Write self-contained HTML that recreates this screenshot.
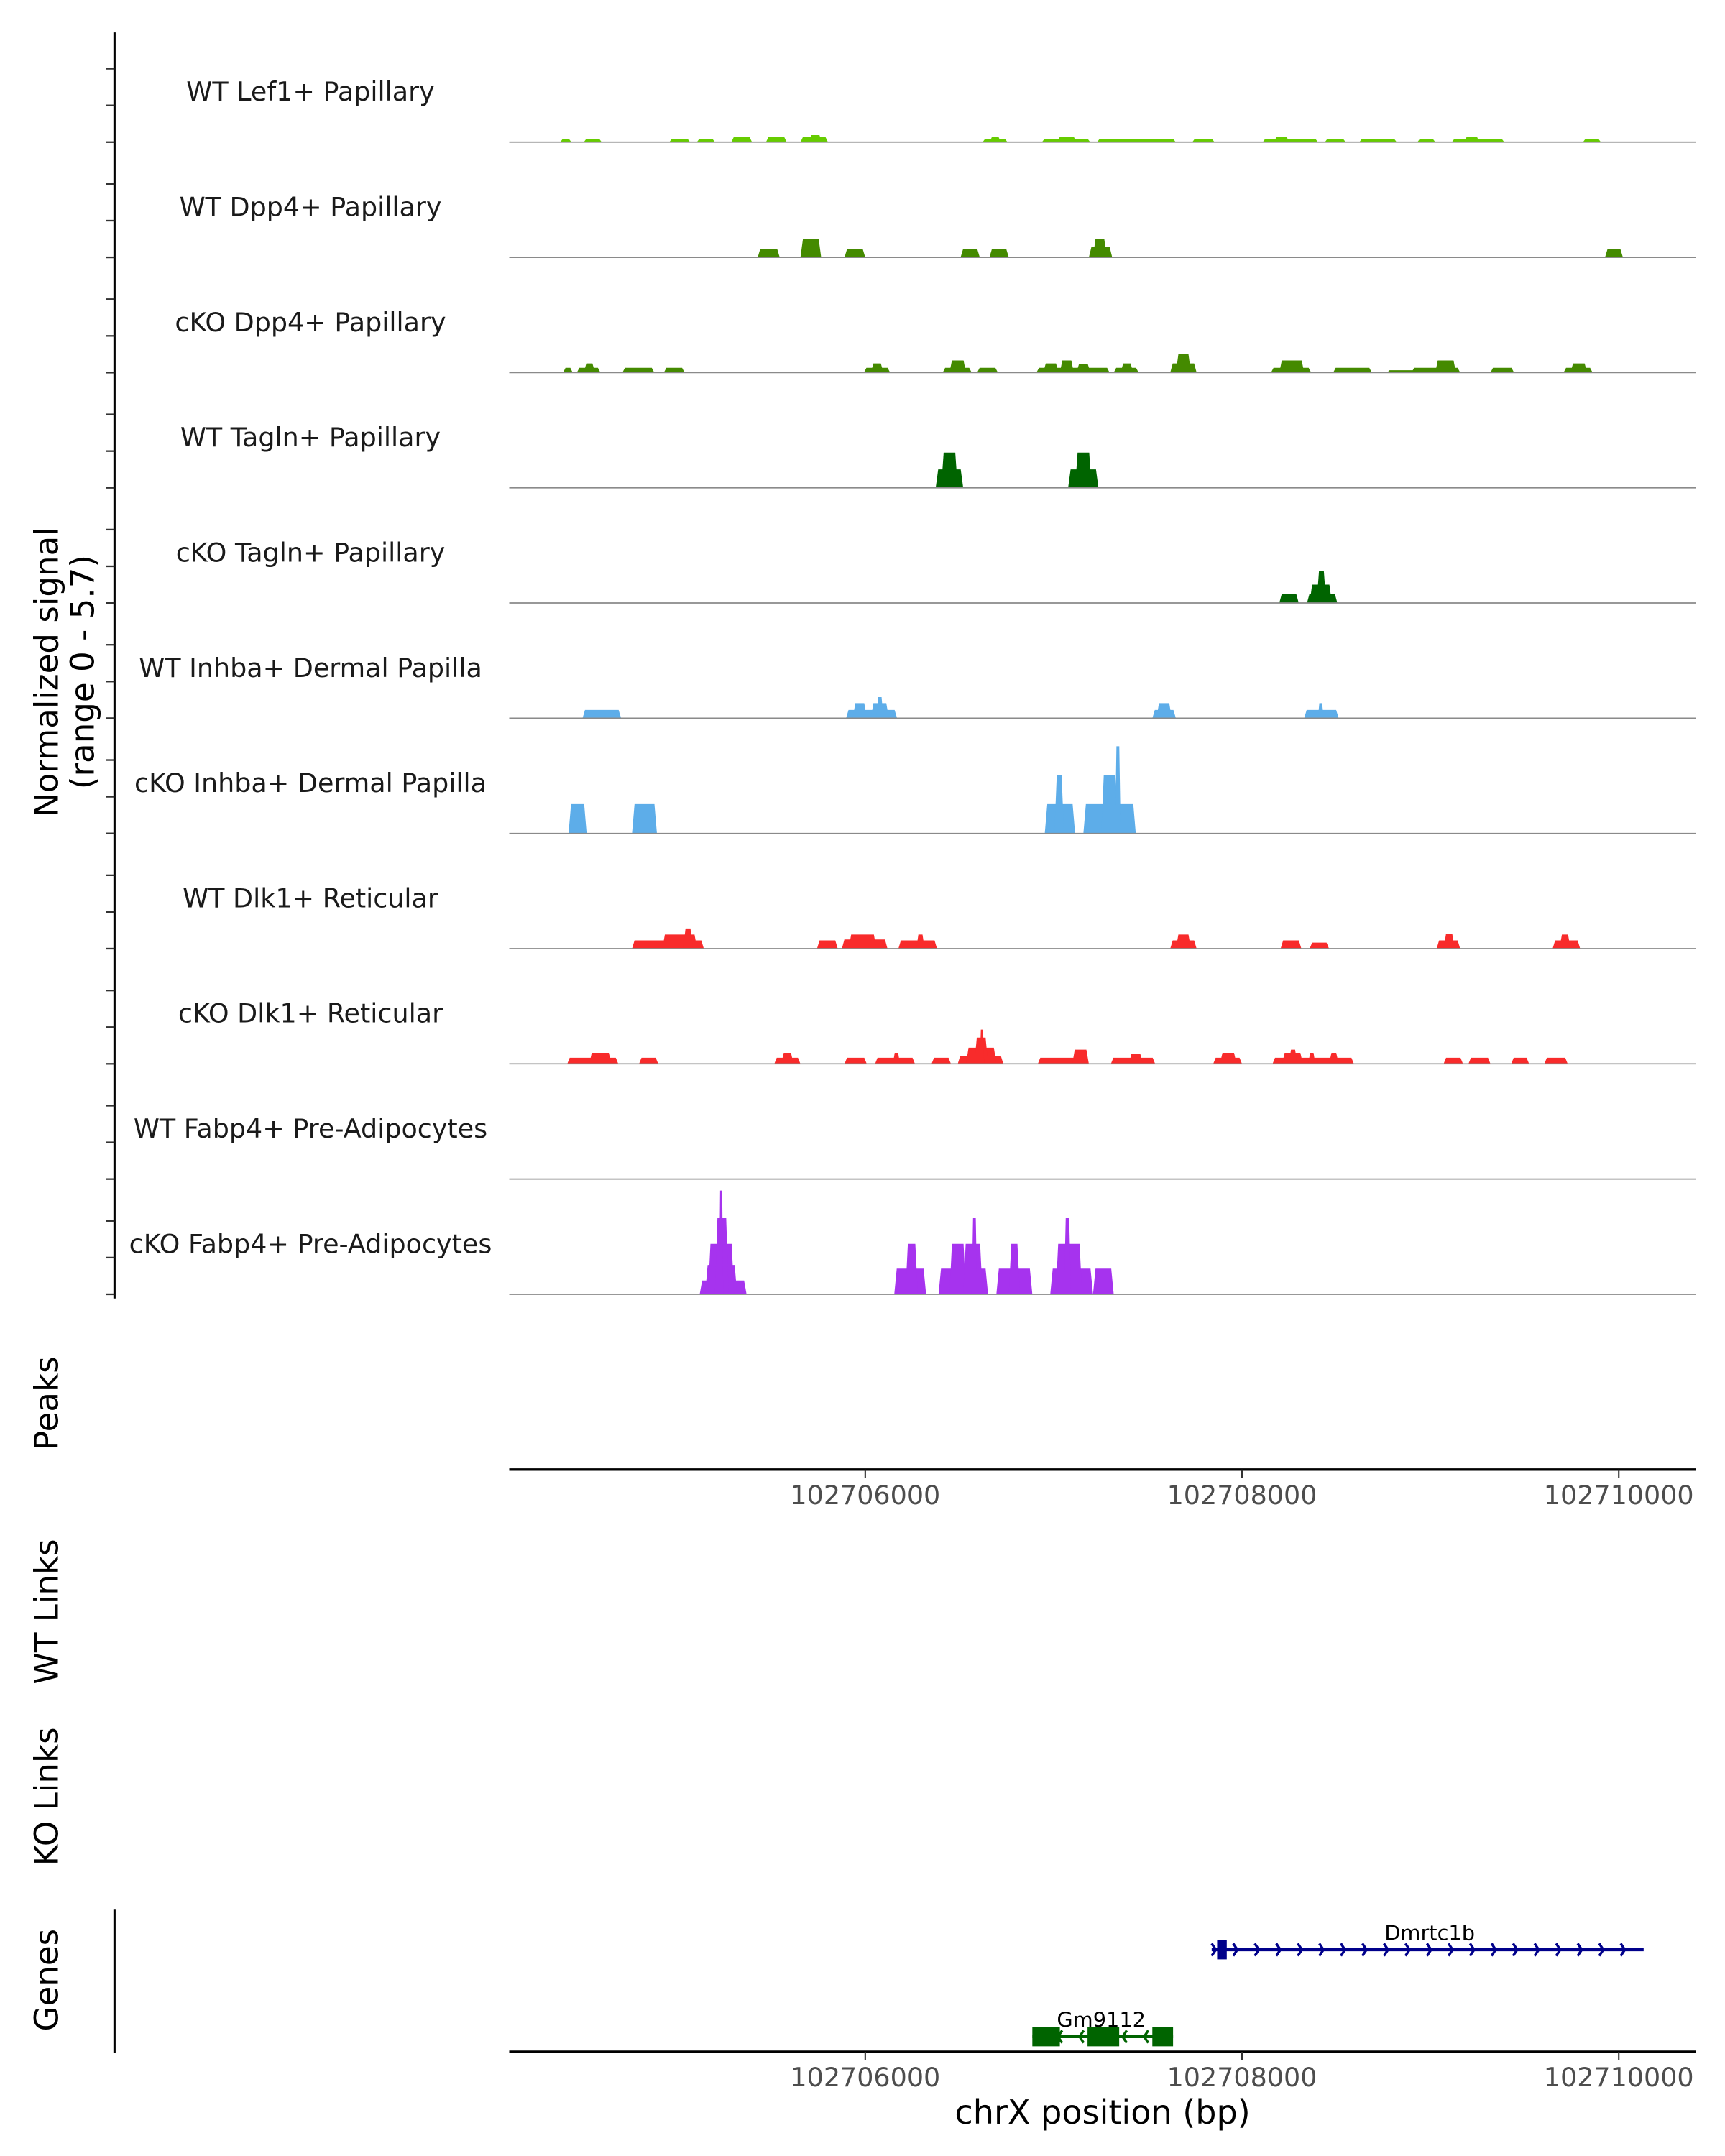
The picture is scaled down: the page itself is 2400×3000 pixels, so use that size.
<!DOCTYPE html>
<html><head><meta charset="utf-8"><style>
html,body{margin:0;padding:0;background:#fff;}
svg{display:block;font-family:"DejaVu Sans","Liberation Sans",sans-serif;}
</style></head><body>
<svg id="chart" xmlns="http://www.w3.org/2000/svg" width="2400" height="3000" viewBox="0 0 1250 1562.5">
<g id="static">
<line x1="83" y1="23.5" x2="83" y2="941" stroke="#000" stroke-width="1.6"/>
<text transform="translate(42,487) rotate(-90)" text-anchor="middle" font-size="23.5" fill="#000">Normalized signal</text>
<text transform="translate(68,487) rotate(-90)" text-anchor="middle" font-size="23.5" fill="#000">(range 0 - 5.7)</text>
<text transform="translate(42,1017) rotate(-90)" text-anchor="middle" font-size="23.5" fill="#000">Peaks</text>
<text transform="translate(42,1168) rotate(-90)" text-anchor="middle" font-size="23.5" fill="#000">WT Links</text>
<text transform="translate(42,1302) rotate(-90)" text-anchor="middle" font-size="23.5" fill="#000">KO Links</text>
<text transform="translate(42,1435) rotate(-90)" text-anchor="middle" font-size="23.5" fill="#000">Genes</text>
<line x1="83" y1="1384" x2="83" y2="1488" stroke="#000" stroke-width="1.6"/>
<text x="799" y="1539" text-anchor="middle" font-size="24" fill="#000">chrX position (bp)</text>
</g>
<g id="tracks"></g>
<g id="axes"></g>
<g id="genes"></g>
</svg>
<script>
const trackNames = ["WT Lef1+ Papillary","WT Dpp4+ Papillary","cKO Dpp4+ Papillary","WT Tagln+ Papillary","cKO Tagln+ Papillary","WT Inhba+ Dermal Papilla","cKO Inhba+ Dermal Papilla","WT Dlk1+ Reticular","cKO Dlk1+ Reticular","WT Fabp4+ Pre-Adipocytes","cKO Fabp4+ Pre-Adipocytes"];
const trackColors = ["#66cc00","#448a00","#448a00","#006400","#006400","#5dade9","#5dade9","#f82b2b","#f82b2b","#a633ee","#a633ee"];
const xTicks = [102706000,102708000,102710000];
// segments: [start bp, end bp, signal]
const segLef1 = [[102704381,102704440,0.18],[102704506,102704601,0.18],[102704960,102705070,0.18],[102705106,102705202,0.18],[102705289,102705399,0.28],[102705473,102705583,0.28],[102705656,102705802,0.28],[102705700,102705770,0.38],[102706623,102706755,0.18],[102706660,102706720,0.3],[102706938,102707194,0.18],[102707020,102707120,0.3],[102707231,102707648,0.18],[102707736,102707854,0.18],[102708110,102708403,0.18],[102708170,102708250,0.3],[102708440,102708550,0.18],[102708623,102708821,0.18],[102708931,102709026,0.18],[102709114,102709392,0.18],[102709180,102709260,0.3],[102709810,102709905,0.18]];
const segWtDpp4 = [[102705429,102705546,0.45],[102705656,102705766,1.0],[102705890,102706000,0.45],[102706506,102706608,0.45],[102706659,102706762,0.45],[102707187,102707311,0.55],[102707209,102707282,1.0],[102709927,102710022,0.45]];
const segKoDpp4 = [[102704396,102704447,0.26],[102704469,102704594,0.26],[102704506,102704565,0.5],[102704711,102704880,0.26],[102704931,102705041,0.26],[102705993,102706132,0.26],[102706030,102706096,0.5],[102706411,102706565,0.26],[102706447,102706535,0.66],[102706594,102706704,0.26],[102706909,102707297,0.26],[102706945,102707026,0.5],[102707033,102707107,0.66],[102707121,102707195,0.45],[102707319,102707451,0.26],[102707356,102707422,0.5],[102707619,102707759,0.5],[102707649,102707729,1.0],[102708154,102708367,0.26],[102708198,102708330,0.66],[102708484,102708689,0.26],[102708770,102709158,0.13],[102708900,102709158,0.26],[102709026,102709136,0.66],[102709319,102709444,0.26],[102709707,102709861,0.26],[102709744,102709832,0.5]];
const segWtTagln = [[102706374,102706520,1.0],[102706403,102706491,1.92],[102707077,102707238,1.0],[102707114,102707202,1.92]];
const segKoTagln = [[102708198,102708301,0.5],[102708345,102708506,0.5],[102708359,102708477,1.0],[102708396,102708447,1.75]];
const segWtInhba = [[102704499,102704704,0.45],[102705898,102706169,0.45],[102705934,102706008,0.82],[102706030,102706125,0.82],[102706059,102706096,1.15],[102707524,102707649,0.45],[102707546,102707627,0.82],[102708330,102708513,0.45],[102708403,102708433,0.82]];
const segKoInhba = [[102704425,102704521,1.6],[102704762,102704894,1.6],[102706953,102707114,1.6],[102707004,102707055,3.2],[102707158,102707436,1.6],[102707253,102707341,3.2],[102707326,102707356,4.75]];
const segWtDlk1 = [[102704762,102705143,0.45],[102704923,102705107,0.77],[102705033,102705085,1.1],[102705744,102705854,0.45],[102705876,102706118,0.5],[102705912,102706059,0.77],[102706176,102706381,0.45],[102706271,102706315,0.77],[102707619,102707759,0.45],[102707649,102707729,0.77],[102708205,102708315,0.45],[102708359,102708462,0.33],[102709033,102709158,0.45],[102709070,102709129,0.82],[102709649,102709795,0.45],[102709685,102709744,0.77]];
const segKoDlk1 = [[102704418,102704689,0.33],[102704535,102704652,0.6],[102704799,102704901,0.33],[102705517,102705656,0.33],[102705554,102705619,0.6],[102705890,102706008,0.33],[102706052,102706264,0.33],[102706147,102706184,0.6],[102706352,102706455,0.33],[102706491,102706733,0.44],[102706535,102706696,0.88],[102706579,102706652,1.43],[102706608,102706631,1.87],[102706916,102707187,0.33],[102707099,102707187,0.77],[102707304,102707539,0.33],[102707400,102707473,0.55],[102707847,102708000,0.33],[102707883,102707971,0.6],[102708162,102708594,0.33],[102708213,102708323,0.6],[102708249,102708293,0.77],[102708352,102708389,0.6],[102708462,102708513,0.6],[102709070,102709173,0.33],[102709202,102709319,0.33],[102709429,102709524,0.33],[102709605,102709729,0.33]];
const segWtFabp4 = [];
const segKoFabp4 = [[102705121,102705370,0.75],[102705150,102705320,1.6],[102705165,102705304,2.75],[102705202,102705275,4.15],[102705224,102705246,5.65],[102706154,102706323,1.4],[102706213,102706279,2.75],[102706389,102706652,1.4],[102706447,102706535,2.75],[102706520,102706623,2.75],[102706565,102706594,4.15],[102706696,102706887,1.4],[102706762,102706821,2.75],[102706982,102707209,1.4],[102707011,102707151,2.75],[102707055,102707092,4.15],[102707209,102707319,1.4]];
const trackSegs = [segLef1,segWtDpp4,segKoDpp4,segWtTagln,segKoTagln,segWtInhba,segKoInhba,segWtDlk1,segKoDlk1,segWtFabp4,segKoFabp4];
const yTickValues = [0,2,4];
// genes
const geneNames = ["Dmrtc1b","Gm9112"];
const geneStarts = [102707839,102706887];
const geneEnds = [102710132,102707634];
const geneStrands = [1,-1];
const geneColors = ["#00008b","#006400"];
const exonsDmrtc1b = [[102707868,102707919]];
const exonsGm9112 = [[102706887,102707033],[102707180,102707348],[102707524,102707634]];
const geneExons = [exonsDmrtc1b, exonsGm9112];

const NS="http://www.w3.org/2000/svg";
const X0=369, X1=1229, BP0=102704110, BP1=102710410;
function xs(bp){return X0+(bp-BP0)/(BP1-BP0)*(X1-X0);}
const TRACK_TOP=20, TRACK_H=83.5, PXU=13.3;
function base(i){return TRACK_TOP+TRACK_H*(i+1)-0.5;}
function ys(i,v){return base(i)-v*PXU;}
function mk(tag,attrs,parent){const e=document.createElementNS(NS,tag);for(const k in attrs)e.setAttribute(k,attrs[k]);parent.appendChild(e);return e;}

const tg=document.getElementById('tracks');
const ag=document.getElementById('axes');
const gg=document.getElementById('genes');

trackNames.forEach((nm,i)=>{
  const g=mk('g',{},tg);
  
  
  trackSegs[i].forEach(s=>{
    const a=xs(s[0]),b=xs(s[1]),yb=base(i),yt=ys(i,s[2]);
    const ins=Math.min(1.8,(b-a)/4);
    const p=mk('polygon',{points:`${a},${yb} ${a+ins},${yt} ${b-ins},${yt} ${b},${yb}`,fill:trackColors[i]},g);
    
    
  });
  const bl=mk('line',{x1:X0,x2:X1,y1:base(i),y2:base(i),stroke:'#8a8a8a','stroke-width':0.9},g);
  
  
  const t=mk('text',{x:225,y:base(i)-30,'text-anchor':'middle','font-size':19,fill:'#1a1a1a'},g);
  t.textContent=nm;
  
  
  yTickValues.forEach(v=>{
    const tk=mk('line',{x1:77,x2:83,y1:ys(i,v),y2:ys(i,v),stroke:'#333','stroke-width':1.2},ag);
    
    
  });
});

[1065,1487].forEach((y,k)=>{
  const l=mk('line',{x1:X0,x2:X1,y1:y,y2:y,stroke:'#000','stroke-width':1.8},ag);
  
  
  xTicks.forEach(v=>{
    const tk=mk('line',{x1:xs(v),x2:xs(v),y1:y,y2:y+6,stroke:'#333','stroke-width':1.1},ag);
    
    
    const tl=mk('text',{x:xs(v),y:y+25,'text-anchor':'middle','font-size':19,fill:'#4d4d4d'},ag);
    tl.textContent=String(v);
    
    
  });
});

const geneY=[1413,1476];
geneNames.forEach((nm,i)=>{
  const g=mk('g',{},gg);
  
  
  const y=geneY[i],a=xs(geneStarts[i]),b=xs(geneEnds[i]),c=geneColors[i];
  mk('line',{x1:a,x2:b,y1:y,y2:y,stroke:c,'stroke-width':2.2},g);
  const d=geneStrands[i];
  for(let x=a+3;x<=b-1;x+=15.6){
    mk('polyline',{points:`${x-3*d},${y-4.5} ${x},${y} ${x-3*d},${y+4.5}`,fill:'none',stroke:c,'stroke-width':1.8},g);
  }
  geneExons[i].forEach(e=>{
    const r=mk('rect',{x:xs(e[0]),y:y-7,width:xs(e[1])-xs(e[0]),height:14,fill:c},g);
    
    
  });
  const t=mk('text',{x:(i===0?1036:798),y:y-7,'text-anchor':'middle','font-size':15,fill:'#000'},g);
  t.textContent=nm;
  
  
});
</script>
</body></html>
